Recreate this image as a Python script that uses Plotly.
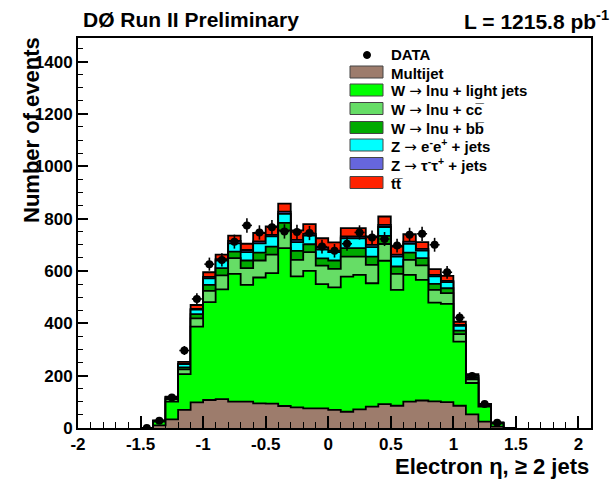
import numpy as np
import plotly.graph_objects as go

# ---------------- data ----------------
bin_lo = -1.5
bin_w = 0.1
n_bins = 30

multijet = [0, 10, 33, 69, 98, 107, 110, 101, 101, 94, 93, 84, 79, 75, 75,
            69, 62, 71, 82, 91, 85, 101, 105, 102, 99, 85, 52, 24, 5, 0]
w_light = [0, 14, 68, 137, 289, 374, 420, 488, 446, 481, 499, 603, 500, 525, 475,
           468, 516, 514, 471, 548, 443, 484, 461, 377, 375, 245, 120, 58, 12, 0]
w_cc = [0, 2, 9, 18, 32, 43, 53, 60, 64, 65, 70, 68, 63, 72, 70,
        71, 77, 70, 70, 64, 61, 57, 55, 49, 41, 29, 14, 4, 1.5, 0]
w_bb = [0, 1, 4, 8, 16, 23, 28, 25, 29, 30, 31, 29, 35, 30, 28,
        32, 32, 32, 32, 31, 28, 28, 28, 23, 19, 13, 6, 3, 1, 0]
z_ee = [0, 1, 4, 12, 17, 25, 29, 31, 32, 35, 39, 34, 33, 33, 34,
        32, 38, 38, 36, 34, 38, 34, 29, 28, 23, 18, 7, 2, 0.5, 0]
z_tautau = [0, 0, 0.5, 1, 3, 5, 5, 10, 8, 8, 6, 9, 9, 7, 8,
            6, 7, 7, 9, 8, 7, 8, 6, 6, 5, 4, 1, 0, 0, 0]
ttbar = [0, 0, 1.5, 8, 15, 18, 17, 20, 24, 32, 32, 30, 36, 37, 35,
         31, 32, 32, 32, 32, 31, 29, 26, 22, 19, 12, 6, 1, 0, 0]
data = [0, 28, 117, 296, 493, 626, 642, 712, 774, 747, 767, 751, 749, 745, 693,
        677, 704, 747, 728, 722, 697, 738, 742, 700, 595, 422, 199, 92, 20, None]

x_ticks = [-2, -1.5, -1, -0.5, 0, 0.5, 1, 1.5, 2]
x_tick_text = ["-2", "-1.5", "-1", "-0.5", "0", "0.5", "1", "1.5", "2"]
y_ticks = [0, 200, 400, 600, 800, 1000, 1200, 1400]
y_tick_text = [str(v) for v in y_ticks]

ARROW = '<span style="font-family:DejaVu Sans;font-weight:normal">\u2192</span>'
components = [
    ("Multijet", multijet, "#9d7c6c"),
    ("W " + ARROW + " lnu + light jets", w_light, "#00ff00"),
    ("W " + ARROW + " lnu + cc\u0305", w_cc, "#66dd66"),
    ("W " + ARROW + " lnu + bb\u0305", w_bb, "#00aa00"),
    ("Z " + ARROW + " e<sup>-</sup>e<sup>+</sup> + jets", z_ee, "#00ffff"),
    ("Z " + ARROW + " \u03c4<sup>-</sup>\u03c4<sup>+</sup> + jets", z_tautau, "#6666dd"),
    ("tt\u0305", ttbar, "#ff2200"),
]

# ---------------- geometry ----------------
W, H = 613, 480
L, R, T, B = 78, 591, 38, 428          # plot frame in pixels
XR = [-2.0, 2.1]
YR = [0, 1490]


def px2x(px):
    return (px - L) / (R - L)


def py2y(py):
    return (B - py) / (B - T)


edges = bin_lo + bin_w * np.arange(n_bins + 1)
centers = edges[:-1] + bin_w / 2

fig = go.Figure()

# cumulative stacks, drawn from the top one down (like THStack)
cum = np.zeros(n_bins)
cums = []
for name, vals, col in components:
    cum = cum + np.array(vals, dtype=float)
    cums.append((name, cum.copy(), col))

for name, cvals, col in reversed(cums):
    xs = [edges[0]] + list(edges)
    ys = [0.0] + list(cvals) + [0.0]
    fig.add_trace(go.Scatter(
        x=xs, y=ys, mode="lines", line_shape="hv",
        line=dict(color="black", width=1.8),
        fill="tozeroy", fillcolor=col, showlegend=False, hoverinfo="skip"))

# data points
d = np.array([np.nan if v is None else v for v in data], dtype=float)
fig.add_trace(go.Scatter(
    x=centers, y=d, mode="markers",
    marker=dict(color="black", size=8, symbol="circle"),
    error_y=dict(type="data", array=np.sqrt(np.nan_to_num(d)), color="black",
                 thickness=1.6, width=0),
    error_x=dict(type="constant", value=0.04, color="black", thickness=1.6, width=0),
    showlegend=False, hoverinfo="skip"))

bold = dict(family="Liberation Sans, Arial, sans-serif", color="black", weight="bold")

fig.update_layout(
    width=W, height=H,
    margin=dict(l=L, r=W - R, t=T, b=H - B),
    paper_bgcolor="white", plot_bgcolor="white",
    showlegend=False,
)
fig.update_xaxes(
    range=XR, showgrid=False, zeroline=False,
    showline=True, linecolor="black", linewidth=2, mirror=True,
    ticks="inside", ticklen=12, tickwidth=1.5, tickcolor="black",
    tickvals=x_ticks, ticktext=x_tick_text,
    tickfont=dict(size=17, **bold),
    minor=dict(ticks="inside", dtick=0.1, tick0=0, ticklen=6, tickwidth=1.2, tickcolor="black"),
)
fig.update_yaxes(
    range=YR, showgrid=False, zeroline=False,
    showline=True, linecolor="black", linewidth=2, mirror=True,
    ticks="inside", ticklen=10, tickwidth=1.5, tickcolor="black",
    tickvals=y_ticks, ticktext=y_tick_text,
    tickfont=dict(size=17, **bold),
    minor=dict(ticks="inside", dtick=50, tick0=0, ticklen=5, tickwidth=1.2, tickcolor="black"),
)

# axis titles and header texts
fig.add_annotation(xref="paper", yref="paper", x=px2x(591), y=py2y(466),
                   text="Electron \u03b7, \u2265 2 jets", showarrow=False,
                   xanchor="right", yanchor="middle", font=dict(size=22, **bold))
fig.add_annotation(xref="paper", yref="paper", x=px2x(31), y=py2y(130),
                   text="Number of events", showarrow=False, textangle=-90,
                   xanchor="center", yanchor="middle", font=dict(size=22, **bold))
fig.add_annotation(xref="paper", yref="paper", x=px2x(81), y=py2y(20),
                   text="D\u00d8 Run II Preliminary", showarrow=False,
                   xanchor="left", yanchor="middle", font=dict(size=21, **bold))
fig.add_annotation(xref="paper", yref="paper", x=px2x(611), y=py2y(20),
                   text="L = 1215.8 pb<sup>-1</sup>", showarrow=False,
                   xanchor="right", yanchor="middle", font=dict(size=21, **bold))

# legend (drawn by hand, ROOT style)
rows = [72, 90, 108.5, 127.5, 145, 163.5, 182.5]
bx0, bx1, tx = 350, 383, 389
fig.add_shape(type="circle", xref="paper", yref="paper",
              x0=px2x(363.5), x1=px2x(370.5), y0=py2y(58.5), y1=py2y(51.5),
              fillcolor="black", line=dict(color="black", width=1))
fig.add_annotation(xref="paper", yref="paper", x=px2x(tx), y=py2y(55),
                   text="DATA", showarrow=False, xanchor="left", yanchor="middle",
                   font=dict(size=15, **bold))
for (name, vals, col), ry in zip(components, rows):
    fig.add_shape(type="rect", xref="paper", yref="paper",
                  x0=px2x(bx0), x1=px2x(bx1), y0=py2y(ry + 6), y1=py2y(ry - 6),
                  fillcolor=col, line=dict(color="#444444", width=1))
    fig.add_annotation(xref="paper", yref="paper", x=px2x(tx), y=py2y(ry + 1),
                       text=name, showarrow=False, xanchor="left", yanchor="middle",
                       font=dict(size=15, **bold))

fig.write_html("out.html")
